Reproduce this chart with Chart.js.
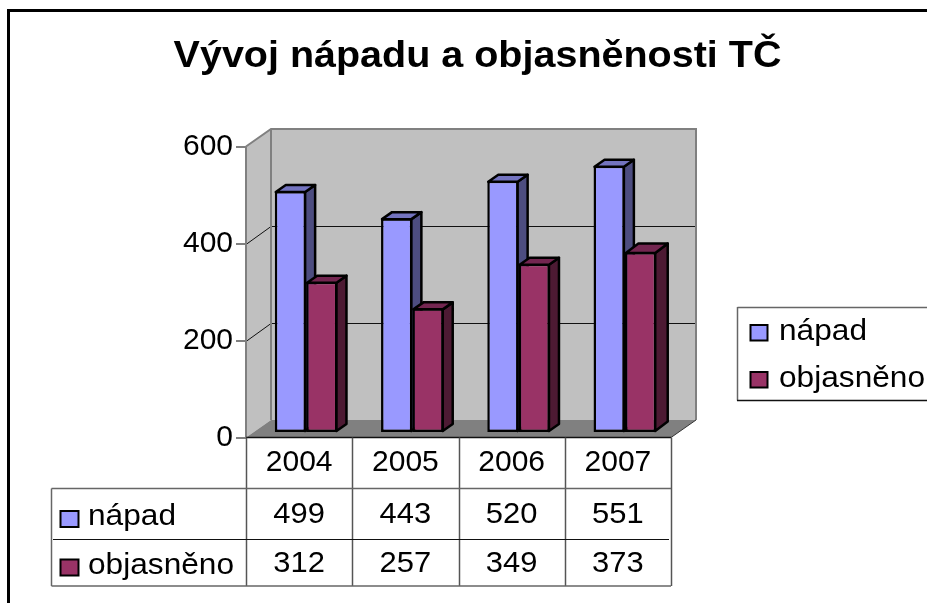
<!DOCTYPE html>
<html><head><meta charset="utf-8">
<style>html,body{margin:0;padding:0;background:#fff}canvas{display:block}</style>
<script src="https://cdn.jsdelivr.net/npm/chart.js@4"></script>
</head><body><canvas id="c" width="927" height="603"></canvas>
<script>
const titleText = 'Vývoj nápadu a objasněnosti TČ';
const years = ['2004','2005','2006','2007'];
const napad = [499,443,520,551];
const objasneno = [312,257,349,373];
const yTicks = [0,200,400,600];
const seriesNames = ['nápad','objasněno'];
const frontColors = ['#9999FF','#993366'];
const topColors = ['#7373BF','#732650'];
const sideColors = ['#4D4D80','#4D1A33'];

const FONT = '"Liberation Sans", Arial, sans-serif';
const FS = 30;
const TITLE_STRETCH = 1.097;
const TEXT_STRETCH = 1.055;
const WALL = {dx:25, dy:-17.5};
const BAR = {dx:7, dy:-4.5, depthX:10, depthY:-7};

function poly(ctx, pts, fill, stroke, lw){
  ctx.beginPath();
  pts.forEach((p,i)=> i?ctx.lineTo(p[0],p[1]):ctx.moveTo(p[0],p[1]));
  ctx.closePath();
  if(fill){ctx.fillStyle=fill;ctx.fill();}
  if(stroke){ctx.strokeStyle=stroke;ctx.lineWidth=lw||1;ctx.stroke();}
}
function line(ctx,x1,y1,x2,y2,c,w){
  ctx.beginPath();ctx.moveTo(x1,y1);ctx.lineTo(x2,y2);ctx.strokeStyle=c;ctx.lineWidth=w||1;ctx.stroke();
}
function label(ctx,t,x,y,align,sx){
  ctx.save();
  ctx.translate(x,y);ctx.scale(sx||1,1);
  ctx.font=FS+'px '+FONT;ctx.fillStyle='#000';ctx.textAlign=align||'left';ctx.textBaseline='middle';ctx.fillText(t,0,0);
  ctx.restore();
}
function key(ctx,x,y,w,h,c){
  ctx.fillStyle=c;ctx.fillRect(x,y,w,h);ctx.strokeStyle='#000';ctx.lineWidth=2;ctx.strokeRect(x,y,w,h);
}
function faces(ctx,meta,i){
  ctx.lineJoin='round';
  meta.data.forEach((b,n)=>{
    // the last purple column is drawn a little deeper in the reference
    const big=i===1&&n===meta.data.length-1;
    const dx=big?12.5:BAR.depthX,dy=big?-9.5:BAR.depthY;
    const l=b.x-b.width/2+1,r=b.x+b.width/2-1,t=b.y+1,base=b.base-1;
    poly(ctx,[[r,t],[r+dx,t+dy],[r+dx,base+dy],[r,base]],sideColors[i],'#000',2.5);
    poly(ctx,[[l,t],[l+dx,t+dy],[r+dx,t+dy],[r,t]],topColors[i],'#000',2.5);
  });
}

const scene = {
  id:'scene',
  afterLayout(chart){
    const t=chart.titleBlock, cx=477.5;
    t.left=0; t.right=955;
    if(!t._wrapped){
      const d=t.draw;
      t.draw=function(){
        const c=chart.ctx;
        c.save();c.translate(cx,0);c.scale(TITLE_STRETCH,1);c.translate(-cx,0);
        d.call(t);
        c.restore();
      };
      t._wrapped=true;
    }
  },
  beforeDraw(chart){
    const ctx=chart.ctx;
    ctx.save();
    ctx.strokeStyle='#000';ctx.lineWidth=3;
    ctx.beginPath();ctx.moveTo(8.5,603);ctx.lineTo(8.5,10.5);ctx.lineTo(927,10.5);ctx.stroke();
    ctx.restore();
  },
  beforeDatasetsDraw(chart){
    const ctx=chart.ctx,a=chart.chartArea,y=chart.scales.y,dx=WALL.dx,dy=WALL.dy;
    ctx.save();
    poly(ctx,[[a.left,a.top],[a.left+dx,a.top+dy],[a.left+dx,a.bottom+dy],[a.left,a.bottom]],'#C0C0C0');
    poly(ctx,[[a.left+dx,a.top+dy],[a.right+dx,a.top+dy],[a.right+dx,a.bottom+dy],[a.left+dx,a.bottom+dy]],'#C0C0C0');
    yTicks.forEach(v=>{
      if(v===0||v===yTicks[yTicks.length-1])return;
      const py=Math.round(y.getPixelForValue(v))+.5;
      const by=Math.round(py+dy)-.5;
      line(ctx,a.left,py,a.left+dx,by,'#111',1);
      line(ctx,a.left+dx,by,a.right+dx,by,'#111',1);
    });
    poly(ctx,[[a.left,a.bottom],[a.left+dx,a.bottom+dy],[a.right+dx,a.bottom+dy],[a.right,a.bottom]],'#808080');
    ctx.beginPath();
    ctx.moveTo(a.left,a.top);ctx.lineTo(a.left+dx,a.top+dy);ctx.lineTo(a.right+dx,a.top+dy);ctx.lineTo(a.right+dx,a.bottom+dy);
    ctx.strokeStyle='#808080';ctx.lineWidth=2;ctx.stroke();
    line(ctx,a.left+dx,a.top+dy,a.left+dx,a.bottom+dy,'#808080',2);
    line(ctx,a.left,a.top,a.left,a.bottom,'#808080',2);
    line(ctx,a.right,a.bottom,a.right+dx,a.bottom+dy,'#333',1);
    line(ctx,a.left,a.bottom,a.right,a.bottom,'#111',1.5);
    ctx.restore();
  },
  // second series overlaps the first one, so it is painted after it
  beforeDatasetDraw(chart,args){
    if(args.index===1) return false;
    chart.ctx.save();
    chart.ctx.translate(BAR.dx,BAR.dy);
  },
  afterDatasetDraw(chart,args){
    const ctx=chart.ctx;
    faces(ctx,args.meta,args.index);
    ctx.restore();
  },
  afterDatasetsDraw(chart){
    const ctx=chart.ctx,meta=chart.getDatasetMeta(1);
    ctx.save();
    ctx.translate(BAR.dx,BAR.dy);
    meta.controller.draw();
    faces(ctx,meta,1);
    ctx.restore();
  },
  afterDraw(chart){
    const ctx=chart.ctx,a=chart.chartArea;
    ctx.save();
    const tb=586, r1=488.5, r2=539.5, L=51.5;
    const cw=(a.right-a.left)/years.length;
    for(let i=0;i<=years.length;i++){
      const x=Math.round(a.left+i*cw)+.5;
      line(ctx,x,a.bottom,x,tb,'#555',1.5);
    }
    line(ctx,L,r1,a.right,r1,'#666',1.5);
    line(ctx,L,tb,a.right,tb,'#666',1.5);
    line(ctx,L,r1,L,tb,'#666',1.5);
    line(ctx,53,r2,669,r2,'#111',1);
    const rows=[napad,objasneno], cy=[515,564], ly=[517,566], ky=[511,559.5];
    rows.forEach((vals,ri)=>{
      key(ctx,60.5,ky[ri],18,16,frontColors[ri]);
      label(ctx,seriesNames[ri],88,ly[ri],'left',TEXT_STRETCH);
      vals.forEach((v,ci)=>label(ctx,String(v),a.left+(ci+.5)*cw,cy[ri],'center',1.03));
    });
    ctx.fillStyle='#fff';ctx.fillRect(738,308,189,92);
    line(ctx,737.5,307.5,927,307.5,'#666',1.5);
    line(ctx,737.5,307,737.5,400.5,'#666',1.5);
    line(ctx,737,400.5,927,400.5,'#111',1.5);
    key(ctx,750.5,325,17,15.5,frontColors[0]);
    key(ctx,750.5,372,17,15.5,frontColors[1]);
    label(ctx,seriesNames[0],779,332,'left',TEXT_STRETCH);
    label(ctx,seriesNames[1],779,379,'left',TEXT_STRETCH);
    ctx.restore();
  }
};

new Chart(document.getElementById('c'),{
  type:'bar',
  data:{labels:years,datasets:[
    {label:seriesNames[0],data:napad,backgroundColor:frontColors[0],borderColor:'#000',borderWidth:2.5,borderSkipped:false,categoryPercentage:.59,barPercentage:1,clip:false},
    {label:seriesNames[1],data:objasneno,backgroundColor:frontColors[1],borderColor:'#000',borderWidth:2.5,borderSkipped:false,categoryPercentage:.59,barPercentage:1,clip:false}
  ]},
  options:{
    responsive:false,animation:false,
    layout:{padding:{left:0,right:256,top:0,bottom:0}},
    plugins:{
      legend:{display:false},tooltip:{enabled:false},
      title:{display:true,text:titleText,color:'#000',font:{family:FONT,size:36,weight:'bold',lineHeight:1.2},padding:{top:35,bottom:68.3}}
    },
    scales:{
      x:{grid:{display:false},border:{display:false},
        afterFit(s){s.height=603-437.5;},
        ticks:{color:'#000',font:{family:FONT,size:FS},padding:-1,maxRotation:0}},
      y:{min:0,max:600,afterFit(s){s.width=246;},
        afterBuildTicks(s){s.ticks=yTicks.map(v=>({value:v}));},
        grid:{drawOnChartArea:false,color:'#808080',tickLength:10,lineWidth:2},border:{display:false},
        ticks:{color:'#000',font:{family:FONT,size:FS},padding:3}}
    }
  },
  plugins:[scene]
});
</script></body></html>
